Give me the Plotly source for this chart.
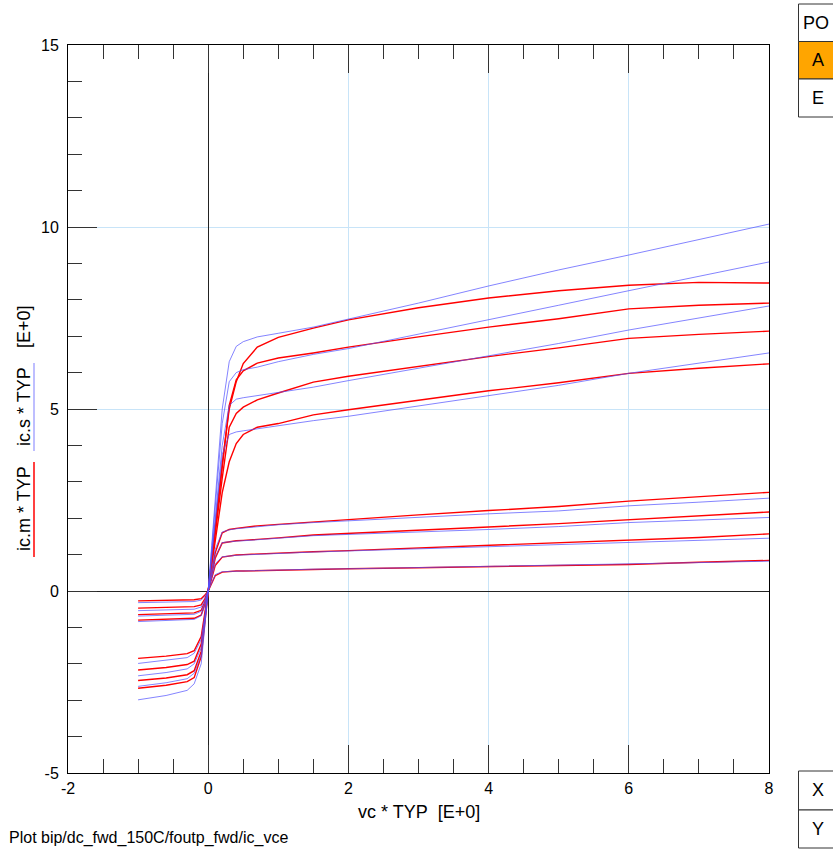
import plotly.graph_objects as go

# ---- data -------------------------------------------------------------
vc = [-1.0, -0.6, -0.3, -0.2, -0.1, -0.05, 0.0, 0.05, 0.1, 0.2, 0.3, 0.4, 0.5,
      0.7, 1.0, 1.5, 2.0, 3.0, 4.0, 5.0, 6.0, 7.0, 8.0]

# measured ic.m, ib1 (smallest) .. ib8 (largest)
icm_ib1 = [-0.27, -0.26, -0.25, -0.24, -0.21, -0.12, 0, 0.22, 0.42, 0.52, 0.54, 0.55, 0.55, 0.56, 0.58, 0.60, 0.61, 0.64, 0.67, 0.70, 0.73, 0.79, 0.84]
icm_ib2 = [-0.47, -0.46, -0.44, -0.43, -0.38, -0.22, 0, 0.35, 0.70, 0.93, 0.97, 0.99, 1.00, 1.02, 1.04, 1.08, 1.11, 1.18, 1.24, 1.31, 1.38, 1.47, 1.57]
icm_ib3 = [-0.65, -0.63, -0.61, -0.60, -0.53, -0.31, 0, 0.45, 0.90, 1.32, 1.36, 1.38, 1.39, 1.41, 1.46, 1.54, 1.58, 1.67, 1.76, 1.85, 1.95, 2.06, 2.17]
icm_ib4 = [-0.80, -0.78, -0.76, -0.75, -0.66, -0.38, 0, 0.55, 1.05, 1.60, 1.69, 1.72, 1.75, 1.79, 1.83, 1.90, 1.97, 2.09, 2.21, 2.32, 2.47, 2.58, 2.71]
icm_ib5 = [-1.85, -1.79, -1.72, -1.64, -1.25, -0.66, 0, 0.70, 1.40, 2.70, 3.55, 4.05, 4.30, 4.50, 4.60, 4.84, 4.98, 5.25, 5.50, 5.72, 5.98, 6.12, 6.24]
icm_ib6 = [-2.17, -2.10, -2.02, -1.93, -1.46, -0.77, 0, 0.80, 1.60, 3.10, 4.50, 4.88, 5.05, 5.25, 5.44, 5.74, 5.90, 6.17, 6.44, 6.68, 6.94, 7.05, 7.14]
icm_ib7 = [-2.46, -2.39, -2.30, -2.19, -1.66, -0.87, 0, 0.85, 1.70, 3.40, 5.10, 5.80, 6.05, 6.26, 6.40, 6.54, 6.70, 6.98, 7.25, 7.48, 7.75, 7.85, 7.91]
icm_ib8 = [-2.67, -2.59, -2.49, -2.38, -1.80, -0.95, 0, 0.85, 1.75, 3.50, 5.00, 5.75, 6.25, 6.70, 6.97, 7.22, 7.45, 7.78, 8.05, 8.25, 8.40, 8.48, 8.46]

# simulated ic.s
ics_ib1 = [-0.32, -0.31, -0.30, -0.29, -0.25, -0.15, 0, 0.25, 0.45, 0.53, 0.54, 0.55, 0.55, 0.56, 0.58, 0.60, 0.61, 0.64, 0.67, 0.70, 0.73, 0.78, 0.82]
ics_ib2 = [-0.54, -0.53, -0.51, -0.50, -0.44, -0.26, 0, 0.40, 0.75, 0.94, 0.97, 0.98, 0.99, 1.01, 1.03, 1.07, 1.10, 1.16, 1.22, 1.28, 1.34, 1.39, 1.45]
ics_ib3 = [-0.69, -0.67, -0.65, -0.64, -0.56, -0.33, 0, 0.50, 0.95, 1.33, 1.36, 1.37, 1.38, 1.40, 1.45, 1.52, 1.55, 1.62, 1.69, 1.77, 1.88, 1.95, 2.02]
ics_ib4 = [-0.84, -0.82, -0.80, -0.78, -0.68, -0.40, 0, 0.60, 1.15, 1.62, 1.68, 1.71, 1.73, 1.77, 1.82, 1.88, 1.93, 2.03, 2.12, 2.20, 2.34, 2.44, 2.55]
ics_ib5 = [-1.99, -1.91, -1.83, -1.71, -1.33, -0.70, 0, 0.95, 1.90, 3.75, 4.30, 4.37, 4.40, 4.46, 4.54, 4.68, 4.80, 5.08, 5.36, 5.65, 5.98, 6.26, 6.54]
ics_ib6 = [-2.33, -2.24, -2.14, -2.00, -1.56, -0.82, 0, 1.00, 2.00, 4.00, 5.10, 5.27, 5.31, 5.37, 5.45, 5.60, 5.78, 6.12, 6.46, 6.80, 7.17, 7.50, 7.83]
ics_ib7 = [-2.62, -2.52, -2.41, -2.26, -1.76, -0.92, 0, 1.15, 2.30, 4.60, 5.75, 6.00, 6.08, 6.15, 6.30, 6.50, 6.66, 7.05, 7.44, 7.85, 8.25, 8.64, 9.04]
ics_ib8 = [-2.99, -2.87, -2.73, -2.55, -2.00, -1.05, 0, 1.25, 2.50, 5.00, 6.30, 6.72, 6.85, 6.98, 7.08, 7.25, 7.47, 7.91, 8.38, 8.82, 9.23, 9.65, 10.08]

icm_curves = [icm_ib1, icm_ib2, icm_ib3, icm_ib4, icm_ib5, icm_ib6, icm_ib7, icm_ib8]
ics_curves = [ics_ib1, ics_ib2, ics_ib3, ics_ib4, ics_ib5, ics_ib6, ics_ib7, ics_ib8]

x_ticks = [-2, 0, 2, 4, 6, 8]
y_ticks = [-5, 0, 5, 10, 15]

FONT = "Liberation Sans, Arial, sans-serif"
NB = "\u00a0"

# ---- figure -----------------------------------------------------------
fig = go.Figure()
for c in icm_curves:
    fig.add_trace(go.Scatter(x=vc, y=c, mode="lines",
                             line=dict(color="#ff0000", width=1.4),
                             hoverinfo="skip", showlegend=False))
for c in ics_curves:
    fig.add_trace(go.Scatter(x=vc, y=c, mode="lines",
                             line=dict(color="rgba(80,80,255,0.7)", width=1),
                             hoverinfo="skip", showlegend=False))

L, R, T, B = 68, 64, 45, 76
W, H = 833, 849
PW, PH = W - L - R, H - T - B


def px(x):
    return (x - L) / PW


def py(y):
    return (H - B - y) / PH


fig.update_layout(
    width=W, height=H,
    margin=dict(l=L, r=R, t=T, b=B, pad=0),
    paper_bgcolor="white", plot_bgcolor="white",
    font=dict(family=FONT, size=16, color="black"),
    showlegend=False,
)

fig.update_xaxes(
    range=[-2, 8], tickmode="array", tickvals=x_ticks, ticktext=[str(v) for v in x_ticks],
    ticks="inside", ticklen=28, tickwidth=1, tickcolor="#333333",
    minor=dict(ticks="inside", ticklen=14, tickwidth=1, tickcolor="#333333", dtick=0.5, tick0=0, showgrid=False),
    showgrid=True, gridcolor="#c8e4f8", gridwidth=1,
    zeroline=True, zerolinecolor="#222222", zerolinewidth=1,
    showline=True, linecolor="black", linewidth=1, mirror="ticks",
    tickfont=dict(size=16, family=FONT), ticklabelstandoff=1,
)
fig.update_yaxes(
    range=[-5, 15], tickmode="array", tickvals=y_ticks, ticktext=[str(v) for v in y_ticks],
    ticks="inside", ticklen=29, tickwidth=1, tickcolor="#333333",
    minor=dict(ticks="inside", ticklen=14, tickwidth=1, tickcolor="#333333", dtick=1, tick0=0, showgrid=False),
    showgrid=True, gridcolor="#c8e4f8", gridwidth=1,
    zeroline=True, zerolinecolor="#222222", zerolinewidth=1,
    showline=True, linecolor="black", linewidth=1, mirror=True,
    tickfont=dict(size=16, family=FONT), ticklabelstandoff=5,
)

ann = []
shapes = []

# axis titles
ann.append(dict(text=f"vc * TYP{NB}{NB}[E+0]", x=0.5, y=py(812), xref="paper", yref="paper",
                xanchor="center", yanchor="middle", showarrow=False, font=dict(size=18)))
for txt, yc in [("ic.m * TYP", 509), ("ic.s * TYP", 407), ("[E+0]", 327)]:
    ann.append(dict(text=txt, x=px(24), y=py(yc), xref="paper", yref="paper", textangle=-90,
                    xanchor="center", yanchor="middle", showarrow=False, font=dict(size=18)))
shapes.append(dict(type="line", xref="paper", yref="paper", x0=px(34), x1=px(34),
                   y0=py(462), y1=py(557), line=dict(color="#ff0000", width=1.5)))
shapes.append(dict(type="line", xref="paper", yref="paper", x0=px(34), x1=px(34),
                   y0=py(363), y1=py(451), line=dict(color="#a8a8ff", width=1.5)))

# footer
ann.append(dict(text="Plot bip/dc_fwd_150C/foutp_fwd/ic_vce", x=px(7), y=py(838), xref="paper", yref="paper",
                xanchor="left", yanchor="middle", showarrow=False, font=dict(size=16)))

# right-hand buttons
def box(y0, y1, fill, label, tx, anchor):
    shapes.append(dict(type="rect", xref="paper", yref="paper", x0=px(798.5), x1=px(845),
                       y0=py(y1), y1=py(y0), fillcolor=fill, line=dict(color="#333333", width=1), layer="above"))
    ann.append(dict(text=label, x=px(tx), y=py((y0 + y1) / 2), xref="paper", yref="paper",
                    xanchor=anchor, yanchor="middle", showarrow=False, font=dict(size=18)))

box(4, 41.5, "white", "PO", 801, "left")
box(41.5, 79, "#ffa500", "A", 818, "center")
box(79, 117, "white", "E", 818, "center")
box(771, 810, "white", "X", 818, "center")
box(810, 848, "white", "Y", 818, "center")

fig.update_layout(annotations=ann, shapes=shapes)
fig.write_html("out.html")
